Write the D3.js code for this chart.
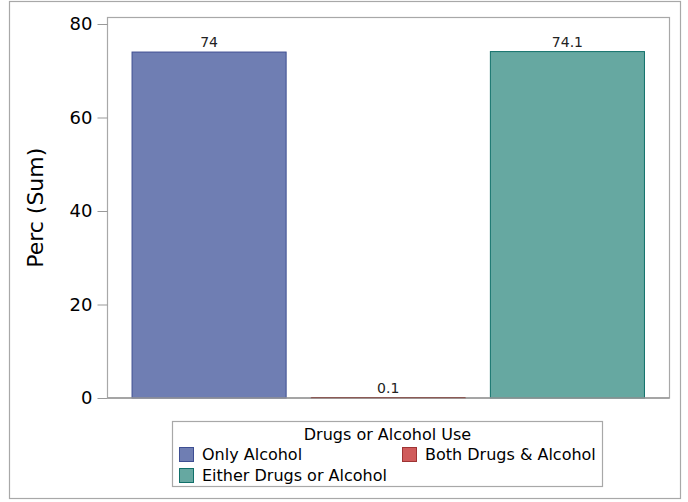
<!DOCTYPE html>
<html><head><meta charset="utf-8">
<script src="https://cdn.jsdelivr.net/npm/d3@7"></script>
<style>body{margin:0;background:#fff}svg{display:block}text{font-family:"DejaVu Sans",sans-serif}</style>
</head><body>
<script>
const categories = ["Only Alcohol", "Both Drugs & Alcohol", "Either Drugs or Alcohol"];
const values = [74, 0.1, 74.1];
const valueLabels = ["74", "0.1", "74.1"];
const yTicks = [0, 20, 40, 60, 80];
const fills = ["#6F7EB3", "#D05B5B", "#66A8A1"];
const strokes = ["#3E4E92", "#9E3434", "#11706A"];
const legendTitle = "Drugs or Alcohol Use";
const yTitle = "Perc (Sum)";

const W = 688, H = 502;
const svg = d3.select("body").append("svg").attr("width", W).attr("height", H);

// outer border
svg.append("rect").attr("x", 9.5).attr("y", 1.5).attr("width", 671).attr("height", 497)
  .attr("fill", "none").attr("stroke", "#A8A8A8").attr("stroke-width", 1.2);

const plot = {l: 107.5, r: 669.5, t: 17.5, b: 398};
const y = d3.scaleLinear().domain([0, 80]).range([398, 24]);
const x = d3.scaleBand().domain(categories).range([119.5, 657]).paddingInner(0.14).paddingOuter(0.07);

// plot frame
svg.append("rect").attr("x", plot.l).attr("y", plot.t).attr("width", plot.r - plot.l).attr("height", plot.b - plot.t)
  .attr("fill", "none").attr("stroke", "#A8A8A8").attr("stroke-width", 1.2);

// y axis
const yAxis = d3.axisLeft(y).tickValues(yTicks).tickSize(10).tickPadding(5).tickFormat(d3.format("d"));
const ga = svg.append("g").attr("transform", `translate(${plot.l},0)`).call(yAxis);
ga.select(".domain").remove();
ga.selectAll(".tick line").attr("stroke", "#999");
ga.selectAll(".tick text").attr("font-size", 18).attr("fill", "#000").attr("font-family", "DejaVu Sans");

svg.append("text").attr("transform", `translate(43,${(plot.t + plot.b) / 2}) rotate(-90)`)
  .attr("text-anchor", "middle").attr("font-size", 22).text(yTitle);

// bars
const bw = x.bandwidth();
svg.selectAll("rect.bar").data(categories).join("rect").attr("class", "bar")
  .attr("x", d => x(d)).attr("width", bw)
  .attr("y", (d, i) => y(values[i])).attr("height", (d, i) => y(0) - y(values[i]))
  .attr("fill", (d, i) => fills[i]).attr("stroke", (d, i) => strokes[i]).attr("stroke-width", 1);

// baseline
svg.append("line").attr("x1", plot.l).attr("x2", plot.r).attr("y1", 398).attr("y2", 398)
  .attr("stroke", "#999").attr("stroke-width", 1.5);
svg.append("line").attr("x1", x(categories[1])).attr("x2", x(categories[1]) + bw).attr("y1", 397.5).attr("y2", 397.5)
  .attr("stroke", "#8B5A55").attr("stroke-width", 1.2);

// value labels
svg.selectAll("text.vl").data(categories).join("text").attr("class", "vl")
  .attr("x", d => x(d) + bw / 2).attr("y", (d, i) => y(values[i]) - 5)
  .attr("text-anchor", "middle").attr("font-size", 14).attr("fill", "#222")
  .text((d, i) => valueLabels[i]);

// legend
const lg = svg.append("g");
lg.append("rect").attr("x", 172.5).attr("y", 421.5).attr("width", 430).attr("height", 65)
  .attr("fill", "none").attr("stroke", "#A8A8A8").attr("stroke-width", 1.2);
lg.append("text").attr("x", 387.5).attr("y", 440).attr("text-anchor", "middle").attr("font-size", 16).text(legendTitle);
const items = [
  {i: 0, x: 179, y: 447},
  {i: 1, x: 402, y: 447},
  {i: 2, x: 179, y: 468}
];
items.forEach(it => {
  lg.append("rect").attr("x", it.x + 0.5).attr("y", it.y + 0.5).attr("width", 14).attr("height", 14)
    .attr("fill", fills[it.i]).attr("stroke", strokes[it.i]).attr("stroke-width", 1);
  lg.append("text").attr("x", it.x + 23).attr("y", it.y + 13).attr("font-size", 16).text(categories[it.i]);
});
</script>
</body></html>
